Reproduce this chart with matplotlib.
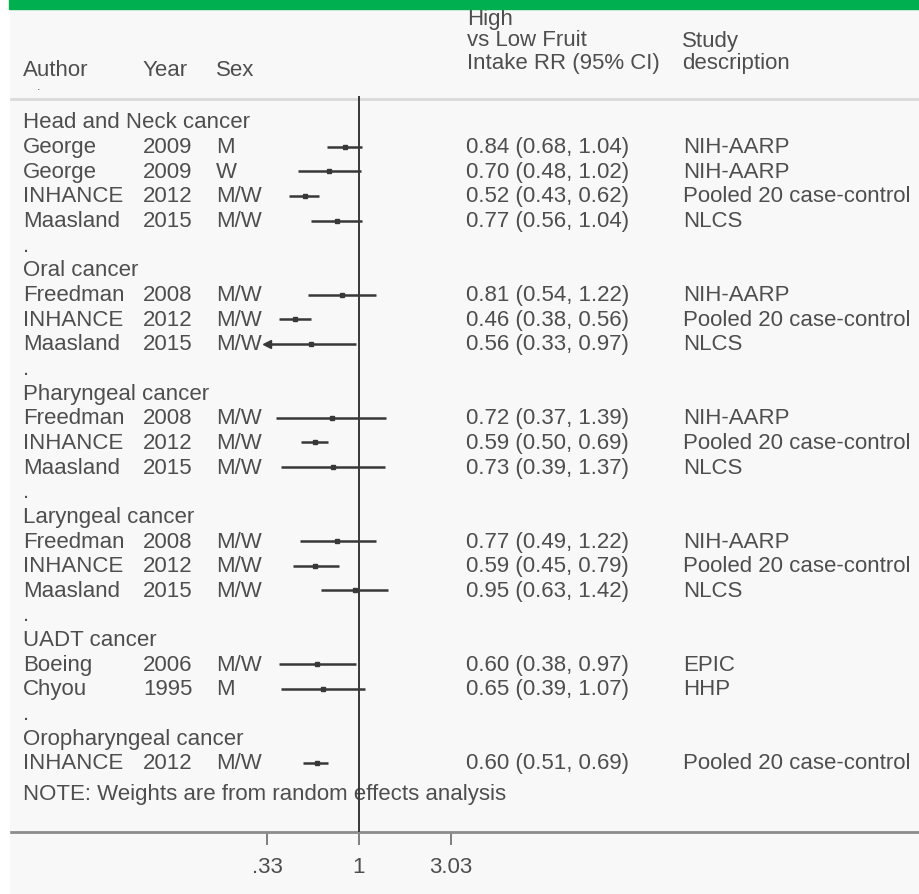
import numpy as np
import matplotlib
matplotlib.use("Agg")
import matplotlib.pyplot as plt
from matplotlib.patches import Rectangle
from matplotlib.ticker import NullLocator
import matplotlib.transforms as mtransforms

plt.rcParams['font.family'] = ['Liberation Sans', 'DejaVu Sans']

# data
groups = ['Head and Neck cancer', 'Oral cancer', 'Pharyngeal cancer',
          'Laryngeal cancer', 'UADT cancer', 'Oropharyngeal cancer']
group_sizes = [4, 3, 3, 3, 2, 1]
authors = ['George', 'George', 'INHANCE', 'Maasland',
           'Freedman', 'INHANCE', 'Maasland',
           'Freedman', 'INHANCE', 'Maasland',
           'Freedman', 'INHANCE', 'Maasland',
           'Boeing', 'Chyou',
           'INHANCE']
years = ['2009', '2009', '2012', '2015',
         '2008', '2012', '2015',
         '2008', '2012', '2015',
         '2008', '2012', '2015',
         '2006', '1995',
         '2012']
sexes = ['M', 'W', 'M/W', 'M/W',
         'M/W', 'M/W', 'M/W',
         'M/W', 'M/W', 'M/W',
         'M/W', 'M/W', 'M/W',
         'M/W', 'M',
         'M/W']
rr = [0.84, 0.70, 0.52, 0.77,
      0.81, 0.46, 0.56,
      0.72, 0.59, 0.73,
      0.77, 0.59, 0.95,
      0.60, 0.65,
      0.60]
lo = [0.68, 0.48, 0.43, 0.56,
      0.54, 0.38, 0.33,
      0.37, 0.50, 0.39,
      0.49, 0.45, 0.63,
      0.38, 0.39,
      0.51]
hi = [1.04, 1.02, 0.62, 1.04,
      1.22, 0.56, 0.97,
      1.39, 0.69, 1.37,
      1.22, 0.79, 1.42,
      0.97, 1.07,
      0.69]
studies = ['NIH-AARP', 'NIH-AARP', 'Pooled 20 case-control', 'NLCS',
           'NIH-AARP', 'Pooled 20 case-control', 'NLCS',
           'NIH-AARP', 'Pooled 20 case-control', 'NLCS',
           'NIH-AARP', 'Pooled 20 case-control', 'NLCS',
           'EPIC', 'HHP',
           'Pooled 20 case-control']
xticks = [0.33, 1, 3.03]
xticklabels = ['.33', '1', '3.03']

W, H = 919, 895
TXT = '#4e4e4e'
INK = '#383838'
FS = 16
ROW0, DY = 123.0, 24.65  # pixel y of first row, row spacing
X0, PX = 359.0, 83.0     # pixel x of RR=1, pixels per ln unit


def ry(p):
    return (p - ROW0) / DY


fig = plt.figure(figsize=(W / 100, H / 100), dpi=100)
fig.patch.set_facecolor('#f8f8f8')
ax = fig.add_axes([0, 0, 1, 1])
ax.set_facecolor('none')
ax.set_xscale('log')
ax.set_xlim(np.exp(-X0 / PX), np.exp((W - X0) / PX))
ax.set_ylim(ry(H), ry(0))
tr = mtransforms.blended_transform_factory(ax.transAxes, ax.transData)

# frame bits
ax.add_patch(Rectangle((9 / W, 1 - 10 / H), 1, 10 / H, transform=ax.transAxes,
                       color='#00b050', clip_on=False, zorder=5))
ax.add_patch(Rectangle((0, 0), 9 / W, 1, transform=ax.transAxes,
                       color='white', clip_on=False, zorder=4))
ax.axhline(ry(100), xmin=9 / W, xmax=1, color='#dadada', lw=2)


def put(px, row, s, **kw):
    kw.setdefault('fontsize', FS)
    kw.setdefault('va', 'center')
    ax.text(px / W, row, s, transform=tr, color=TXT, ha='left', **kw)


# header
put(23, ry(70), 'Author')
put(143, ry(70), 'Year')
put(216, ry(70), 'Sex')
put(37, ry(90), '.', fontsize=9, va='baseline')
put(467, ry(19), 'High')
put(467, ry(41), 'vs Low Fruit')
put(467, ry(64), 'Intake RR (95% CI)')
put(682, ry(41), 'Study')
put(682, ry(64), 'description')

# rows
row = 0
k = 0
for g, n in zip(groups, group_sizes):
    put(23, row, g)
    row += 1
    for _ in range(n):
        put(23, row, authors[k])
        put(143, row, years[k])
        put(216, row, sexes[k])
        put(466, row, '%.2f (%.2f, %.2f)' % (rr[k], lo[k], hi[k]))
        put(683, row, studies[k])
        ax.plot([lo[k], hi[k]], [row, row], color=INK, lw=1.8,
                solid_capstyle='butt', zorder=3)
        ax.plot(rr[k], row, marker='s', ms=3.4, color=INK, zorder=4)
        if lo[k] <= xticks[0]:
            ax.plot(lo[k], row, marker='<', ms=6, color=INK, zorder=4)
        row += 1
        k += 1
    if k < len(authors):
        put(23, row, '.')
        row += 1

axis_row = ry(833)
put(23, ry(795), 'NOTE: Weights are from random effects analysis')

# null line
ax.vlines(1, ry(97), axis_row, color=INK, lw=1.4, zorder=3)

# x axis
for s in ['top', 'left', 'right']:
    ax.spines[s].set_visible(False)
ax.spines['bottom'].set_position(('data', axis_row))
ax.spines['bottom'].set_bounds(np.exp((7 - X0) / PX), np.exp((W - X0) / PX))
ax.spines['bottom'].set_color('#8c8c8c')
ax.spines['bottom'].set_linewidth(2)
ax.set_xticks(xticks)
ax.set_xticklabels(xticklabels)
ax.xaxis.set_minor_locator(NullLocator())
ax.tick_params(axis='x', direction='out', length=9, width=1.2, color='#6a6a6a',
               pad=8, labelsize=FS, labelcolor=TXT)
ax.set_yticks([])

fig.savefig('out.png', dpi=100, facecolor=fig.get_facecolor())
